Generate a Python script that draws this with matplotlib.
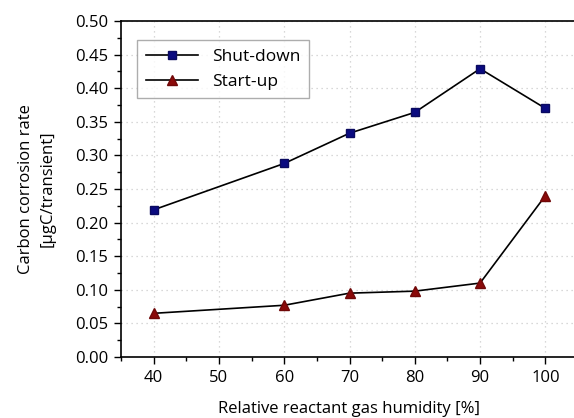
import numpy as np
import matplotlib.pyplot as plt
from matplotlib.ticker import MultipleLocator

# data
humidity = [40, 60, 70, 80, 90, 100]
shut_down = [0.219, 0.288, 0.333, 0.364, 0.429, 0.370]
start_up = [0.065, 0.077, 0.095, 0.098, 0.110, 0.240]

plt.rcParams['font.family'] = ['Open Sans', 'DejaVu Sans']

fig = plt.figure(figsize=(5.74, 4.18), dpi=100)
ax = fig.add_axes([121/574, 1 - 357/418, (578 - 121)/574, (357 - 21)/418])

ax.plot(humidity, shut_down, '-', color='black', lw=1.2, marker='s', ms=6,
        mfc='#0a0a80', mec='#0a0a60', label='Shut-down')
ax.plot(humidity, start_up, '-', color='black', lw=1.2, marker='^', ms=7,
        mfc='#8b0a0a', mec='#700808', label='Start-up')

ax.set_xlim(35, 105)
ax.set_ylim(0, 0.5)
ax.xaxis.set_major_locator(MultipleLocator(10))
ax.xaxis.set_minor_locator(MultipleLocator(5))
ax.yaxis.set_major_locator(MultipleLocator(0.05))
ax.yaxis.set_minor_locator(MultipleLocator(0.025))
ax.set_yticklabels([f"{v:.2f}" for v in ax.get_yticks()])
ax.set_xticks([40, 50, 60, 70, 80, 90, 100])

ax.grid(True, which='major', linestyle=(0, (1, 3)), color='#cccccc', lw=0.9)
ax.tick_params(which='major', direction='out', length=5, width=1, labelsize=12,
               pad=4)
ax.tick_params(which='minor', direction='out', length=3, width=1)
for s in ['left', 'bottom', 'top']:
    ax.spines[s].set_linewidth(1.2)
ax.spines['right'].set_visible(False)

ax.set_xlabel("Relative reactant gas humidity [%]", fontsize=12, labelpad=11)
ax.set_ylabel("Carbon corrosion rate\n[µgC/transient]", fontsize=12, labelpad=14,
              linespacing=1.45)

leg = ax.legend(loc='upper left', bbox_to_anchor=(0.035, 0.943), fontsize=12.5,
                frameon=True, fancybox=False, edgecolor='#999999',
                handlelength=3, borderpad=0.5, labelspacing=0.5,
                borderaxespad=0)
leg.get_frame().set_linewidth(1.0)

plt.savefig("out.png", dpi=100)
